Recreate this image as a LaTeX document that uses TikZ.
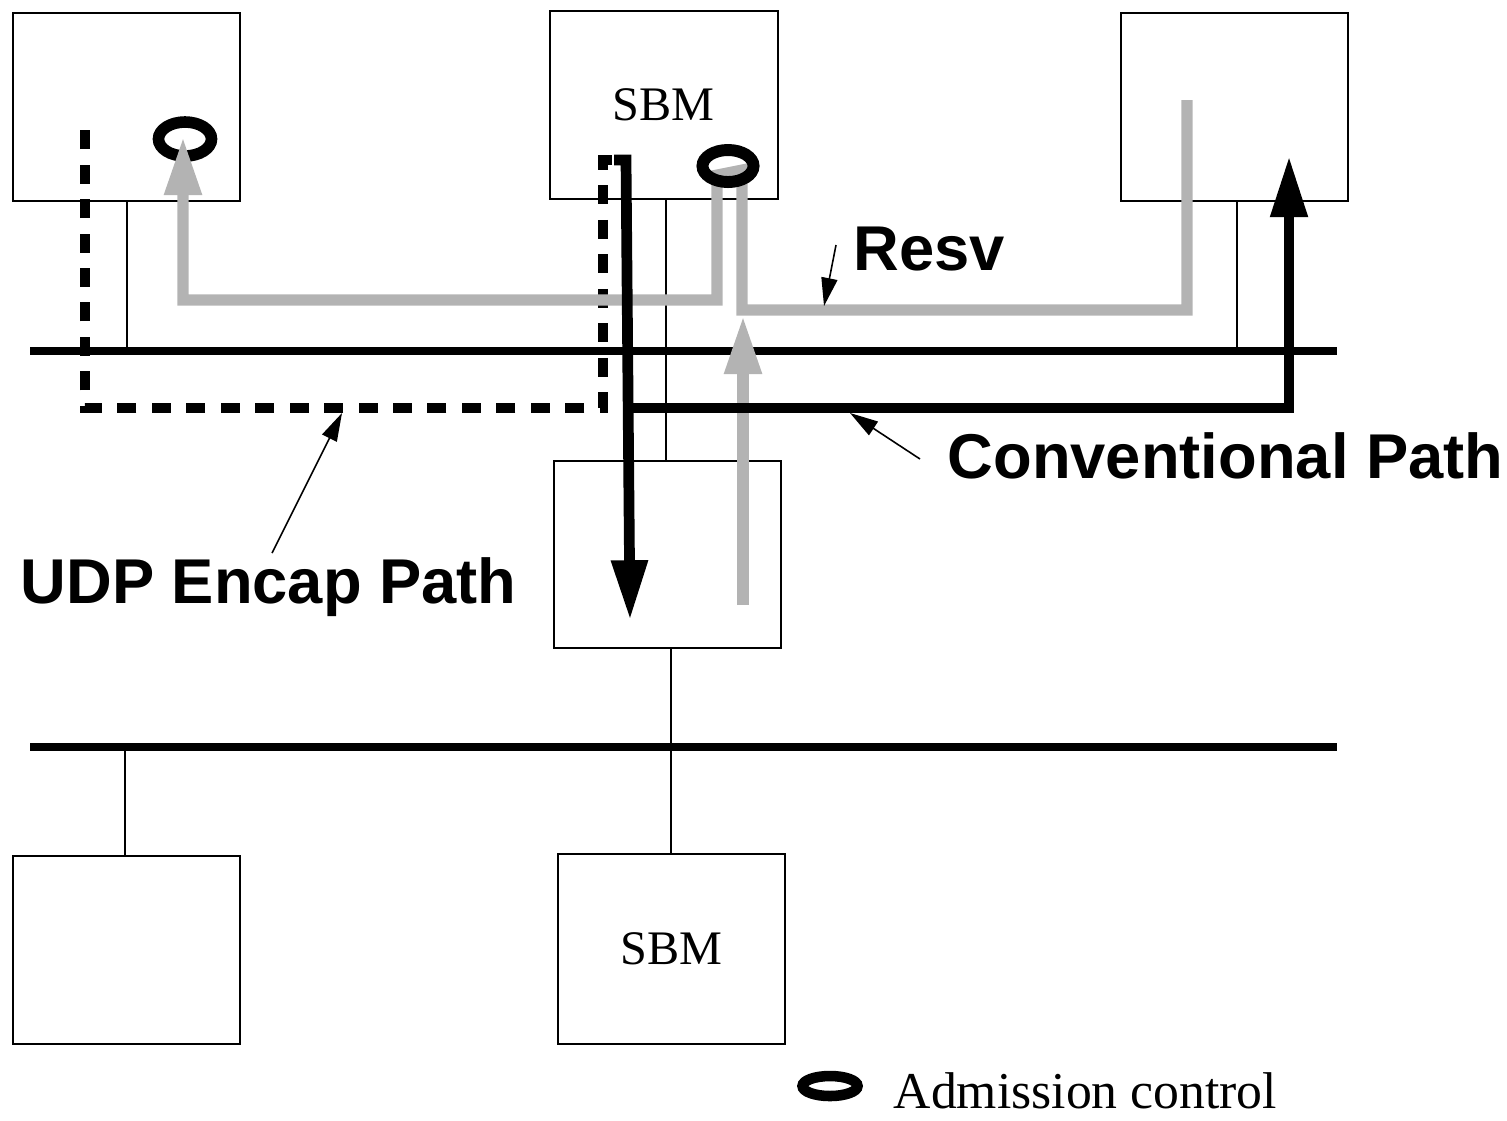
\documentclass[tikz,border=0pt]{standalone}
\usepackage{fontspec}
\setmainfont{Liberation Serif}
\newfontfamily\labelfont{Liberation Sans}
\usetikzlibrary{arrows.meta,shapes.geometric}
\definecolor{pathgray}{RGB}{179,179,179}
\begin{document}
\begin{tikzpicture}[x=0.01cm, y=-0.01cm,
  box/.style={draw, line width=0.45pt, minimum width=2.27cm, minimum height=1.88cm,
    anchor=north west, inner sep=0pt, font=\fontsize{13.7}{16}\selectfont},
  bus/.style={line width=2.4pt},
  drop/.style={line width=0.45pt},
  resvpath/.style={pathgray, line width=3.15pt, miter limit=10},
  convpath/.style={black, line width=3.05pt, miter limit=10},
  udppath/.style={black, line width=2.8pt, dash pattern=on 5.4pt off 4.4pt},
  ac/.style={ellipse, draw, inner sep=0pt},
  lbl/.style={anchor=base west, inner sep=0pt, font=\labelfont\bfseries\fontsize{18}{20}\selectfont},
  ptr/.style={line width=0.45pt, -{Triangle[length=8pt,width=4.6pt]}},
  bighead/.style={-{Triangle[length=16.5pt,width=10pt]}}
]
\useasboundingbox (0,0) rectangle (1507,1120);

% boxes
\node[box] (tl) at (12,12) {};
\node[box, minimum width=2.28cm] (tm) at (549,10) {SBM};
\node[box] (tr) at (1120,12) {};
\node[box, minimum height=1.87cm] (rt) at (553,460) {};
\node[box] (bl) at (12,855) {};
\node[box, minimum height=1.90cm] (bm) at (557,853) {SBM};

% buses
\coordinate (b1w) at (30,351); \coordinate (b1e) at (1337,351);
\coordinate (b2w) at (30,747); \coordinate (b2e) at (1337,747);
\draw[bus] (b1w) -- (b1e);
\draw[bus] (b2w) -- (b2e);

% drops
\coordinate (x1) at (127,0);
\coordinate (x2) at (666,0);
\coordinate (x3) at (1237,0);
\coordinate (x4) at (671,0);
\coordinate (x5) at (125,0);
\draw[drop] (x1 |- tl.south) -- (x1 |- b1w);
\draw[drop] (x2 |- tm.south) -- (x2 |- rt.north);
\draw[drop] (x3 |- tr.south) -- (x3 |- b1w);
\draw[drop] (x4 |- rt.south) -- (x4 |- bm.north);
\draw[drop] (x5 |- b2w) -- (x5 |- bl.north);

% admission control at left host
\node[ac, line width=3.3pt, minimum width=0.53cm, minimum height=0.34cm] (ac1) at (185,139) {};

% UDP encap path (dashed)
\coordinate (u0) at (612,160);
\coordinate (u1) at (85,130);
\draw[udppath] (u0) -- (603,160) -- (603,408) -- (85,408) -- (u1);

% Resv path (gray)
\coordinate (r0) at (1187,100);
\draw[resvpath, bighead] (r0) -- (1187,310) -- (742,310) -- (742,170) -- (717,175) -- (717,300) -- (183,300) -- (183,137);

% gray up arrow in router
\coordinate (g0) at (743,605);
\coordinate (g1) at (743,316);
\draw[resvpath, bighead] (g0) -- (g1);

% admission control at SBM
\node[ac, line width=3.4pt, minimum width=0.51cm, minimum height=0.32cm] (ac2) at (728,166) {};

% black down arrow
\coordinate (k0) at (614,160);
\coordinate (k1) at (630,620);
\draw[convpath, -{Triangle[length=17pt,width=9.8pt]}] (k0) -- (626,160) -- (k1);

% conventional path
\coordinate (c0) at (630,408);
\coordinate (c1) at (1289,156);
\draw[convpath, -{Triangle[length=17.4pt,width=10pt]}] (c0) -- (1289,408) -- (c1);

% labels
\node[lbl] (resv) at (853,270) {Resv};
\node[lbl] (conv) at (947,478) {Conventional Path};
\node[lbl] (udp) at (20,603) {UDP Encap Path};

% pointers
\coordinate (pr0) at (836,245); \coordinate (pr1) at (824,306);
\coordinate (pc0) at (920,459); \coordinate (pc1) at (850,413);
\coordinate (pu0) at (272,553); \coordinate (pu1) at (342,413);
\draw[ptr] (pr0) -- (pr1);
\draw[ptr] (pc0) -- (pc1);
\draw[ptr] (pu0) -- (pu1);

% legend
\node[ac, line width=3pt, minimum width=0.55cm, minimum height=0.2cm] (acl) at (830,1086) {};
\node[anchor=base west, inner sep=0pt, font=\fontsize{14.7}{17}\selectfont] (adm) at (893,1108) {Admission control};
\end{tikzpicture}
\end{document}
